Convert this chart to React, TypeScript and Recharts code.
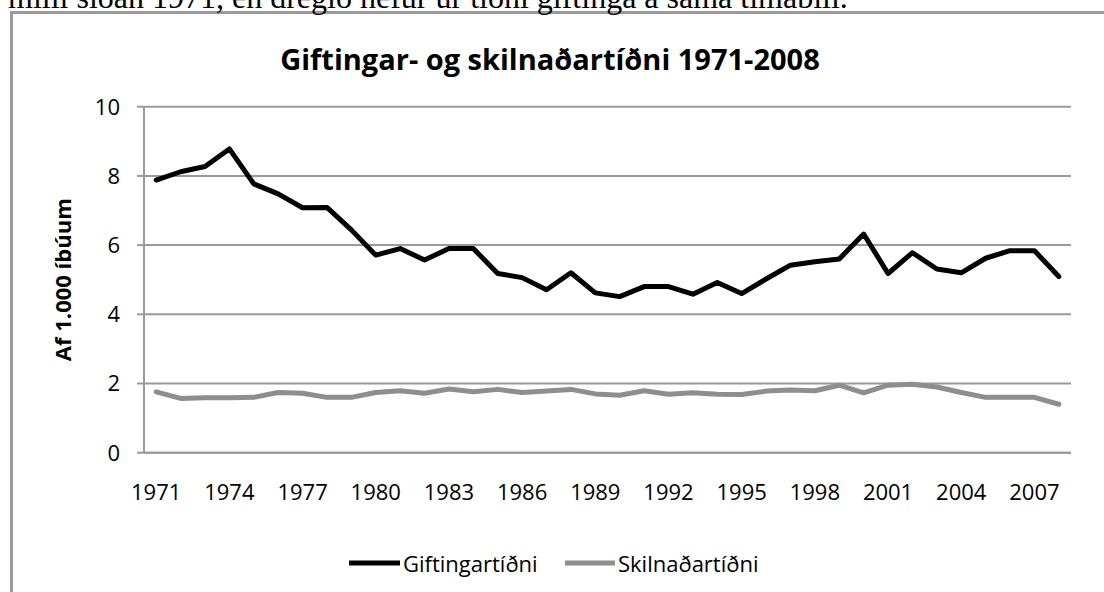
import React from 'react';
import { LineChart, Line, XAxis, YAxis, CartesianGrid, Label } from 'recharts';

const years = [1971, 1972, 1973, 1974, 1975, 1976, 1977, 1978, 1979, 1980, 1981, 1982, 1983, 1984, 1985, 1986, 1987, 1988, 1989, 1990, 1991, 1992, 1993, 1994, 1995, 1996, 1997, 1998, 1999, 2000, 2001, 2002, 2003, 2004, 2005, 2006, 2007, 2008];

const giftingartidni = [7.88, 8.12, 8.27, 8.78, 7.77, 7.48, 7.08, 7.09, 6.44, 5.71, 5.9, 5.57, 5.9, 5.9, 5.18, 5.06, 4.71, 5.2, 4.62, 4.51, 4.8, 4.8, 4.58, 4.92, 4.6, 5.02, 5.42, 5.52, 5.6, 6.32, 5.18, 5.78, 5.31, 5.2, 5.62, 5.84, 5.84, 5.09];

const skilnadartidni = [1.76, 1.57, 1.59, 1.59, 1.6, 1.74, 1.72, 1.6, 1.6, 1.74, 1.79, 1.72, 1.84, 1.76, 1.83, 1.74, 1.78, 1.83, 1.7, 1.66, 1.79, 1.69, 1.73, 1.69, 1.68, 1.78, 1.81, 1.79, 1.95, 1.73, 1.95, 1.98, 1.9, 1.74, 1.6, 1.6, 1.6, 1.4];

const xTickYears = [1971, 1974, 1977, 1980, 1983, 1986, 1989, 1992, 1995, 1998, 2001, 2004, 2007];
const yTicks = [0, 2, 4, 6, 8, 10];

const seriesNames = ['Giftingartíðni', 'Skilnaðartíðni'];
const title = 'Giftingar- og skilnaðartíðni 1971-2008';
const yLabel = 'Af 1.000 íbúum';
const topText = 'milli síðan 1971, en dregið hefur úr tíðni giftinga á sama tímabili.';

const data = years.map((year, i) => ({
  year,
  gift: giftingartidni[i],
  skiln: skilnadartidni[i],
}));

const tickBoundaries = xTickYears.map((y) => y - 0.5);
const xDomain = [years[0] - 0.5, years[years.length - 1] + 0.5];

const FONT = '"Open Sans", sans-serif';
const AXIS_GRAY = '#9a9a9a';
const SERIES_GRAY = '#8e8e8e';

const MARKS_ID = 'a_marks';
const LABELS_ID = 'b_labels';

const YLabelContent = (props: any) => {
  const vb = props.viewBox || {};
  const cy = vb.y + vb.height / 2;
  const cx = 62.5;
  return (
    <text
      x={cx}
      y={cy}
      transform={`rotate(-90 ${cx} ${cy})`}
      textAnchor="middle"
      dominantBaseline="central"
      fontFamily={FONT}
      fontWeight={700}
      fontSize={22}
      fill="#000"
    >
      {yLabel}
    </text>
  );
};

export default function App() {
  return (
    <div style={{ position: 'absolute', left: 0, top: 0, width: 1104, height: 592, overflow: 'hidden', background: '#fff' }}>
      <div
        style={{
          position: 'absolute',
          left: 10,
          top: 11,
          width: 2000,
          height: 2000,
          borderLeft: `3px solid ${AXIS_GRAY}`,
          borderTop: `3px solid ${AXIS_GRAY}`,
        }}
      />
      <LineChart
        width={1104}
        height={592}
        data={data}
        margin={{ top: 106.7, right: 33, bottom: 71.3, left: 0 }}
        style={{ position: 'absolute', left: 0, top: 0 }}
      >
        <CartesianGrid vertical={false} stroke={AXIS_GRAY} strokeWidth={2} xAxisId={LABELS_ID} />
        <XAxis
          xAxisId={MARKS_ID}
          type="number"
          domain={xDomain}
          allowDataOverflow
          ticks={tickBoundaries}
          tickFormatter={() => ''}
          tickSize={7}
          height={8}
          axisLine={{ stroke: AXIS_GRAY, strokeWidth: 2 }}
          tickLine={{ stroke: AXIS_GRAY, strokeWidth: 2 }}
          interval={0}
        />
        <XAxis
          xAxisId={LABELS_ID}
          dataKey="year"
          type="number"
          domain={xDomain}
          allowDataOverflow
          ticks={xTickYears}
          interval={0}
          axisLine={false}
          tickLine={false}
          tickSize={0}
          tickMargin={24}
          height={60}
          tick={{ fill: '#000', fontSize: 22, fontFamily: FONT }}
        />
        <YAxis
          width={144}
          domain={[0, 10]}
          ticks={yTicks}
          interval={0}
          tickSize={7}
          tickMargin={17}
          axisLine={{ stroke: AXIS_GRAY, strokeWidth: 2 }}
          tickLine={{ stroke: AXIS_GRAY, strokeWidth: 2 }}
          tick={{ fill: '#000', fontSize: 22, fontFamily: FONT }}
        >
          <Label content={<YLabelContent />} />
        </YAxis>
        <Line
          xAxisId={LABELS_ID}
          type="linear"
          dataKey="gift"
          name={seriesNames[0]}
          stroke="#000"
          strokeWidth={5}
          dot={false}
          strokeLinejoin="round"
          strokeLinecap="round"
          isAnimationActive={false}
        />
        <Line
          xAxisId={LABELS_ID}
          type="linear"
          dataKey="skiln"
          name={seriesNames[1]}
          stroke={SERIES_GRAY}
          strokeWidth={5}
          dot={false}
          strokeLinejoin="round"
          strokeLinecap="round"
          isAnimationActive={false}
        />
      </LineChart>
      <svg width={1104} height={592} style={{ position: 'absolute', left: 0, top: 0, pointerEvents: 'none' }}>
        <text x={8} y={8} fontFamily='"Liberation Serif", "Times New Roman", serif' fontSize={32} fill="#000">
          {topText}
        </text>
        <text x={550} y={70} textAnchor="middle" fontFamily={FONT} fontWeight={700} fontSize={29} fill="#000">
          {title}
        </text>
        <line x1={349} y1={563} x2={400} y2={563} stroke="#000" strokeWidth={5} />
        <text x={403} y={563} dominantBaseline="central" fontFamily={FONT} fontSize={22} fill="#000">
          {seriesNames[0]}
        </text>
        <line x1={565} y1={563} x2={615} y2={563} stroke={SERIES_GRAY} strokeWidth={5} />
        <text x={618} y={563} dominantBaseline="central" fontFamily={FONT} fontSize={22} fill="#000">
          {seriesNames[1]}
        </text>
      </svg>
    </div>
  );
}
